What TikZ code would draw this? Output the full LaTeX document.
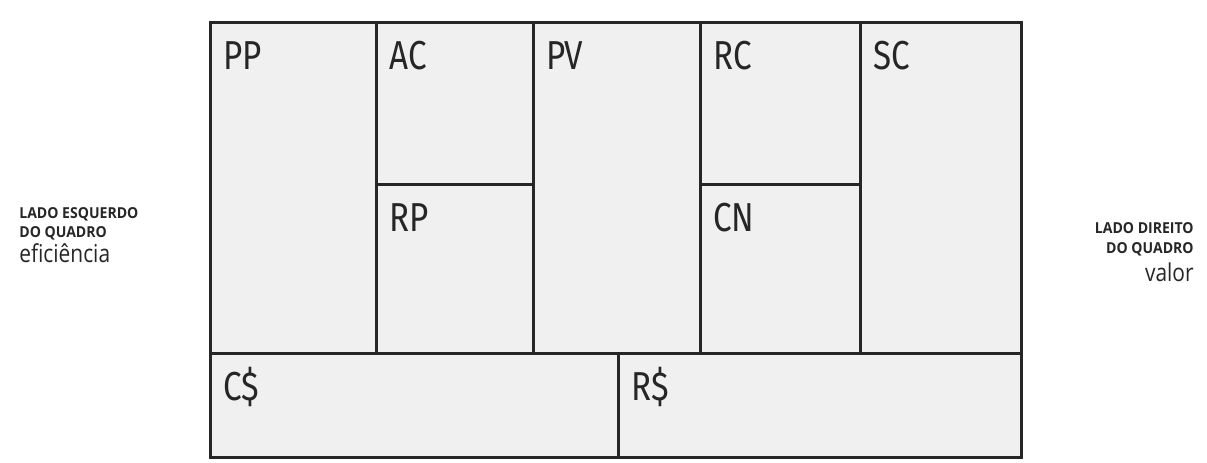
\documentclass[tikz,border=0pt]{standalone}
\usepackage{fontspec}
\usepackage{tikz}
\usetikzlibrary{positioning}
\setmainfont{Open Sans}
\newfontfamily\cellfont[FakeStretch=0.82]{Fira Sans}
\newfontfamily\sidefont[FakeStretch=0.93]{Open Sans}
\newfontfamily\wordfont[FakeStretch=0.85]{Open Sans}
\definecolor{ink}{RGB}{38,38,38}
\definecolor{paper}{RGB}{240,240,240}

\begin{document}
\begin{tikzpicture}[x=0.2mm, y=-0.2mm,
                    cell/.style={draw=ink, fill=paper, line width=0.6mm},
                    tag/.style={anchor=base west, inner sep=0pt, text=ink, font=\cellfont\fontsize{23}{27}\selectfont},
                    sidecap/.style={inner sep=0pt, text=ink, font=\sidefont\bfseries\fontsize{8.6}{10}\selectfont},
                    word/.style={inner sep=0pt, text=ink, font=\wordfont\fontsize{14}{16}\selectfont}]
  \useasboundingbox (0,0) rectangle (1207,462);
  % the nine blocks of the canvas
  \foreach \xa/\ya/\xb/\yb/\nm/\txt in {210/22/376/353/pp/PP, 376/22/533/184/ac/AC, 376/184/533/353/rp/RP,
      533/22/700/353/pv/PV, 700/22/860/184/rc/RC, 700/184/860/353/cn/CN, 860/22/1021/353/sc/SC,
      210/353/618/457/cs/C\$, 618/353/1021/457/rs/R\$}{
    \draw[cell] (\xa,\ya) rectangle (\xb,\yb);
    \node[tag] (\nm) at (\xa+13,\ya+47) {\txt};
  }
  \node[sidecap, anchor=base west] (esqa) at (19,218) {LADO ESQUERDO};
  \node[sidecap, anchor=base west] (esqb) at (19,237) {DO QUADRO};
  \node[word, anchor=base west] (efic) at (19,262) {eficiência};
  \node[sidecap, anchor=base east] (dira) at (1194,233) {LADO DIREITO};
  \node[sidecap, anchor=base east] (dirb) at (1194,253) {DO QUADRO};
  \node[word, anchor=base east] (valor) at (1194,281) {valor};
\end{tikzpicture}
\end{document}
